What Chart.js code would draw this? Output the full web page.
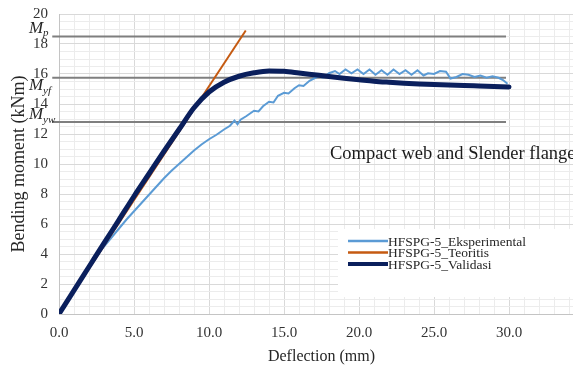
<!DOCTYPE html>
<html>
<head>
<meta charset="utf-8">
<script src="https://cdn.jsdelivr.net/npm/chart.js@4.4.0/dist/chart.umd.min.js"></script>
<style>
  html, body { margin:0; padding:0; background:#fff; overflow:hidden; }
  /* the original picture is cropped on the right, so the canvas runs past the window */
  #wrap { width:584px; height:369px; position:relative; }
</style>
</head>
<body>
<div id="wrap"><canvas id="chart"></canvas></div>
<script>
// deflection (mm) / bending moment (kNm)
let expX = [0, 0.5, 1, 1.5, 2, 2.5, 3, 3.5, 4, 4.5, 5, 5.5, 6, 6.5, 7, 7.5, 8, 8.5, 9, 9.5,
  10, 10.5, 11, 11.4, 11.7, 11.9, 12.1, 12.5, 13, 13.3, 13.6, 14, 14.3, 14.6, 15, 15.3, 15.7, 16, 16.3, 16.7,
  17, 17.3, 17.6, 18, 18.4, 18.7, 19.1, 19.5, 19.9, 20.3, 20.7, 21.1, 21.5, 21.9, 22.3, 22.7, 23.1, 23.5, 23.9, 24.3,
  24.6, 25, 25.4, 25.8, 26.1, 26.5, 26.9, 27.3, 27.7, 28.1, 28.5, 28.9, 29.3, 29.6, 29.9];
let expY = [0, 0.8, 1.6, 2.4, 3.15, 3.85, 4.5, 5.1, 5.7, 6.3, 6.85, 7.4, 7.95, 8.5, 9.05, 9.55, 10.0, 10.45, 10.9, 11.3,
  11.65, 11.95, 12.3, 12.55, 12.9, 12.65, 12.95, 13.2, 13.55, 13.5, 13.85, 14.15, 14.1, 14.55, 14.75, 14.7, 15.05, 15.25, 15.2, 15.55,
  15.7, 15.85, 15.75, 16.05, 16.2, 16.0, 16.3, 16.05, 16.3, 16.0, 16.3, 15.95, 16.25, 15.95, 16.3, 16.0, 16.25, 15.95, 16.25, 15.9,
  16.05, 16.0, 16.2, 16.15, 15.7, 15.8, 16.0, 15.95, 15.8, 15.9, 15.75, 15.85, 15.75, 15.6, 15.35];

let teoX = [0, 12.45];
let teoY = [0, 18.9];

let valX = [0, 1, 2, 3, 4, 5, 6, 7, 8, 9, 10, 11, 12, 13, 14, 15, 16, 17, 18, 19, 20, 21, 22, 23, 24, 25, 26, 27, 28, 29, 30];
let valY = [0, 1.58, 3.15, 4.72, 6.28, 7.85, 9.35, 10.85, 12.3, 13.75, 14.8, 15.45, 15.85, 16.08, 16.2, 16.18, 16.07, 15.95, 15.83, 15.72,
  15.62, 15.52, 15.45, 15.39, 15.34, 15.3, 15.27, 15.23, 15.2, 15.17, 15.14];

// reference moments Mp, Myf, Myw
let refNames = ["p", "yf", "yw"];
let refLevels = [18.5, 15.75, 12.8];
let refFrom = -0.45, refTo = 29.8;

let seriesNames = ["HFSPG-5_Eksperimental", "HFSPG-5_Teoritis", "HFSPG-5_Validasi"];
let seriesColors = ["#5b9bd5", "#c55a11", "#0a1f5c"];
let seriesWidths = [2, 2, 5];

let xTicks = [0, 5, 10, 15, 20, 25, 30];
let yTicks = [0, 2, 4, 6, 8, 10, 12, 14, 16, 18, 20];

function pts(xs, ys){
  return xs.map((x, i) => ({x: x, y: ys[i]}));
}

const SERIF = "'Liberation Serif', 'DejaVu Serif', serif";

let datasets = [
  {label: seriesNames[0], data: pts(expX, expY), borderColor: seriesColors[0], borderWidth: seriesWidths[0], pointRadius: 0, tension: 0, order: 2},
  {label: seriesNames[1], data: pts(teoX, teoY), borderColor: seriesColors[1], borderWidth: seriesWidths[1], pointRadius: 0, order: 1},
  {label: seriesNames[2], data: pts(valX, valY), borderColor: seriesColors[2], borderWidth: seriesWidths[2], pointRadius: 0,
    cubicInterpolationMode: "monotone", borderCapStyle: "round", order: 0}
];
refLevels.forEach((lv, i) => {
  datasets.push({label: "ref" + i, data: [{x: refFrom, y: lv}, {x: refTo, y: lv}], borderColor: "#7f7f7f",
    borderWidth: 2, pointRadius: 0, clip: false, order: 5});
});

/* legend box, M labels and the note */
const extras = {
  id: "extras",
  afterDraw(chart){
    const c = chart.ctx;
    const ys = chart.scales.y;
    c.save();
    // M labels
    let offs = [-8, 8, -7];
    refLevels.forEach((lv, i) => {
      let py = ys.getPixelForValue(lv) + offs[i];
      c.fillStyle = "#262626";
      c.textBaseline = "middle";
      c.textAlign = "left";
      c.font = "italic 17px " + SERIF;
      c.fillText("M", 29, py);
      c.font = "italic 11px " + SERIF;
      c.fillText(refNames[i], 43, py + 5);
    });
    // note
    c.font = "18.5px " + SERIF;
    c.fillStyle = "#1a1a1a";
    c.fillText("Compact web and Slender flange", 330, 154);
    // legend
    c.fillStyle = "#fff";
    c.fillRect(338, 229, 246, 68);
    c.font = "13.5px " + SERIF;
    seriesNames.forEach((n, i) => {
      let ly = 241 + i * 11.5;
      c.strokeStyle = seriesColors[i];
      c.lineWidth = i == 2 ? 4 : 2.5;
      c.beginPath();
      c.moveTo(348, ly);
      c.lineTo(388, ly);
      c.stroke();
      c.fillStyle = "#262626";
      c.fillText(n, 388, ly + 1);
    });
    c.restore();
  }
};

new Chart(document.getElementById("chart"), {
  type: "line",
  data: {datasets: datasets},
  plugins: [extras],
  options: {
    responsive: true,
    maintainAspectRatio: false,
    animation: false,
    devicePixelRatio: 1,
    layout: {padding: {top: 14, right: 0, left: 0, bottom: 0}},
    plugins: {legend: {display: false}, tooltip: {enabled: false}},
    scales: {
      x: {
        type: "linear", min: 0, max: 35,
        afterFit: s => { s.height = 55; s.paddingLeft = 0; s.paddingRight = 0; },
        ticks: {stepSize: 1, autoSkip: false, maxRotation: 0, padding: 10, color: "#333",
          font: {family: SERIF, size: 15},
          callback: v => xTicks.includes(v) ? v.toFixed(1) : ""},
        grid: {drawTicks: false, color: ctx => (ctx.tick && ctx.tick.value % 5 === 0) ? "#d9d9d9" : "#ececec"},
        border: {color: "#c4c4c4"},
        title: {display: true, text: "Deflection (mm)", color: "#262626",
          font: {family: SERIF, size: 16}, padding: {top: 3, bottom: 3}}
      },
      y: {
        min: 0, max: 20,
        afterFit: s => { s.width = 59; s.paddingTop = 0; s.paddingBottom = 0; },
        ticks: {stepSize: 0.5, autoSkip: false, padding: 11, color: "#333",
          font: {family: SERIF, size: 15},
          callback: v => yTicks.includes(v) ? String(v) : ""},
        grid: {drawTicks: false, color: ctx => (ctx.tick && ctx.tick.value % 2 === 0) ? "#d9d9d9" : "#ececec"},
        border: {color: "#c4c4c4"},
        title: {display: true, text: "Bending moment (kNm)", color: "#262626",
          font: {family: SERIF, size: 18}, padding: {top: 8, bottom: 0}}
      }
    }
  }
});
</script>
</body>
</html>
